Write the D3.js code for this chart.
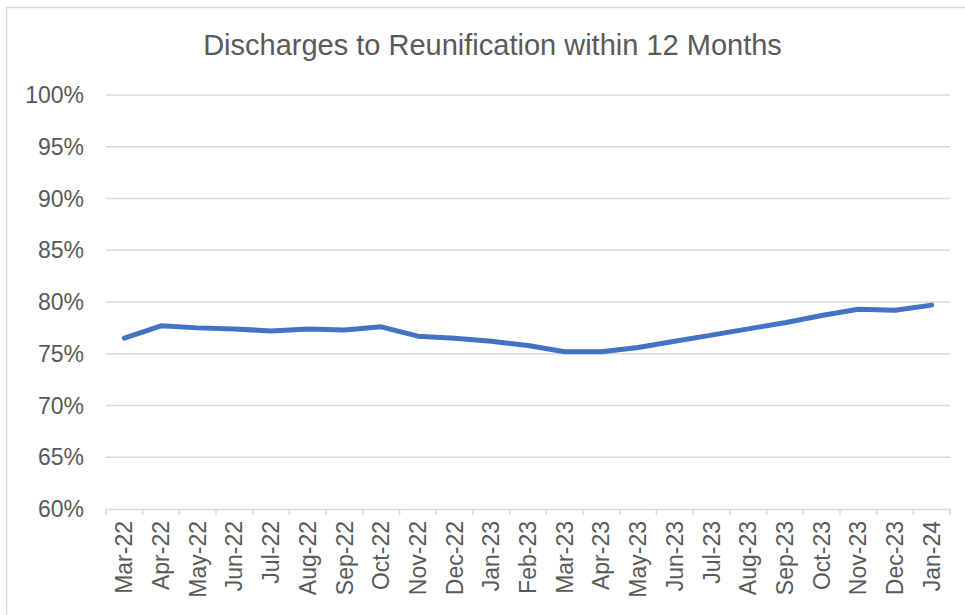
<!DOCTYPE html>
<html>
<head>
<meta charset="utf-8">
<script src="https://cdn.jsdelivr.net/npm/d3@7"></script>
<style>
html,body{margin:0;padding:0;background:#fff;}
svg{display:block;font-family:"Liberation Sans",Arial,sans-serif;}
</style>
</head>
<body>
<svg id="chart" width="965" height="615"></svg>
<script>
const months = ["Mar-22","Apr-22","May-22","Jun-22","Jul-22","Aug-22","Sep-22","Oct-22","Nov-22","Dec-22","Jan-23","Feb-23","Mar-23","Apr-23","May-23","Jun-23","Jul-23","Aug-23","Sep-23","Oct-23","Nov-23","Dec-23","Jan-24"];
const rates = [76.5,77.7,77.5,77.4,77.2,77.4,77.3,77.6,76.7,76.5,76.2,75.8,75.2,75.2,75.6,76.2,76.8,77.4,78.0,78.7,79.3,79.2,79.7];
const yTicks = [60,65,70,75,80,85,90,95,100];
const title = "Discharges to Reunification within 12 Months";

const svg = d3.select("#chart");
const pLeft = 106, pRight = 950, pTop = 95, pBottom = 509;
const textColor = "#595959", gridColor = "#d9d9d9";

// outer border
svg.append("rect").attr("x",6.5).attr("y",7.5).attr("width",970).attr("height",620)
  .attr("fill","none").attr("stroke","#d9d9d9").attr("stroke-width",1.5);

const x = d3.scaleBand().domain(months).range([pLeft,pRight]).padding(0);
const y = d3.scaleLinear().domain([60,100]).range([pBottom,pTop]);

// gridlines
svg.append("g").selectAll("line").data(yTicks.filter(d=>d>60)).join("line")
  .attr("x1",pLeft).attr("x2",pRight)
  .attr("y1",d=>y(d)).attr("y2",d=>y(d))
  .attr("stroke",gridColor).attr("stroke-width",1.5);

// y labels
svg.append("g").selectAll("text").data(yTicks).join("text")
  .attr("x",84).attr("y",d=>y(d)).attr("dy","0.35em")
  .attr("text-anchor","end").attr("fill",textColor)
  .style("font-size","23px")
  .text(d=>d+"%");

// x axis
const xAxis = d3.axisBottom(x).tickSize(0).tickFormat("");
const gx = svg.append("g").attr("transform",`translate(0,${pBottom})`).call(xAxis);
gx.select(".domain").attr("stroke",gridColor).attr("stroke-width",1.5);
// boundary ticks
const bounds = months.map(m=>x(m)).concat([pRight]);
svg.append("g").selectAll("line").data(bounds).join("line")
  .attr("x1",d=>d).attr("x2",d=>d).attr("y1",pBottom).attr("y2",pBottom+6)
  .attr("stroke",gridColor).attr("stroke-width",1.5);

// x labels
svg.append("g").selectAll("text").data(months).join("text")
  .attr("transform",d=>`translate(${x(d)+x.bandwidth()/2},${521}) rotate(-90)`)
  .attr("dy","0.35em").attr("text-anchor","end").attr("fill",textColor)
  .style("font-size","23px")
  .text(d=>d);

// line
const line = d3.line().x((d,i)=>x(months[i])+x.bandwidth()/2).y(d=>y(d));
svg.append("path").datum(rates).attr("d",line)
  .attr("fill","none").attr("stroke","#4472C4").attr("stroke-width",5)
  .attr("stroke-linecap","round").attr("stroke-linejoin","round");

// title
svg.append("text").attr("x",492.5).attr("y",55).attr("text-anchor","middle")
  .attr("fill",textColor).style("font-size","29px").text(title);
</script>
</body>
</html>
